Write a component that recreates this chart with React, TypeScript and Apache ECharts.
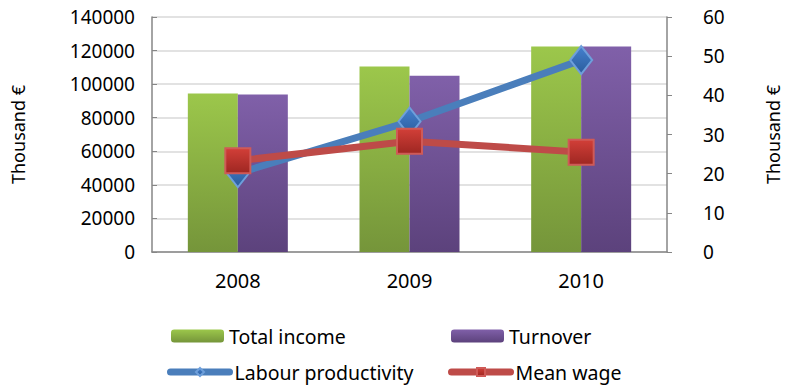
import React, { useEffect, useRef } from "react";
import * as echarts from "echarts";

const categories = ["2008", "2009", "2010"];
const totalIncome = [94500, 110500, 122500];
const turnover = [93800, 105000, 122500];
const labourProductivity = [20.1, 33.3, 49.0];
const meanWage = [23.3, 28.3, 25.5];
const leftTicks = { min: 0, max: 140000, interval: 20000 };
const rightTicks = { min: 0, max: 60, interval: 10 };

const FONT = "Noto Sans";

export default function App() {
  const ref = useRef<HTMLDivElement>(null);
  useEffect(() => {
    if (!ref.current) return;
    const chart = echarts.init(ref.current, null, { renderer: "svg" });
    const green = new echarts.graphic.LinearGradient(0, 0, 0, 1, [
      { offset: 0, color: "#9CC74B" },
      { offset: 1, color: "#75953A" },
    ]);
    const purple = new echarts.graphic.LinearGradient(0, 0, 0, 1, [
      { offset: 0, color: "#8060A9" },
      { offset: 1, color: "#5C427C" },
    ]);
    const blueMarker = new echarts.graphic.LinearGradient(0, 0, 0, 1, [
      { offset: 0, color: "#4581CF" },
      { offset: 1, color: "#2A5C9C" },
    ]);
    const redMarker = new echarts.graphic.LinearGradient(0, 0, 0, 1, [
      { offset: 0, color: "#D23F38" },
      { offset: 1, color: "#9E2722" },
    ]);
    const legendText = { fontFamily: FONT, fontSize: 19.5, color: "#000" };
    const lineLegend = { width: 7, cap: "round" };
    chart.setOption({
      animation: false,
      textStyle: { fontFamily: FONT },
      grid: { left: 152, right: 118, top: 17, bottom: 133, outerBoundsMode: "none", containLabel: false },
      legend: [
        { data: ["Total income"], left: 171, top: 326, padding: 0, itemWidth: 53, itemHeight: 13, textStyle: legendText },
        { data: ["Turnover"], left: 451, top: 326, padding: 0, itemWidth: 53, itemHeight: 13, textStyle: legendText },
        { data: ["Labour productivity"], left: 167, top: 362, padding: 0, itemWidth: 59, itemHeight: 10, textStyle: legendText, lineStyle: lineLegend },
        { data: ["Mean wage"], left: 448, top: 362, padding: 0, itemWidth: 59, itemHeight: 10, textStyle: legendText, lineStyle: lineLegend },
      ],
      xAxis: {
        type: "category",
        data: categories,
        axisLine: { lineStyle: { color: "#868686", width: 1.5 } },
        axisTick: { show: false },
        axisLabel: { fontFamily: FONT, fontSize: 20, color: "#000", margin: 18 },
      },
      yAxis: [
        {
          type: "value",
          ...leftTicks,
          name: "Thousand €",
          nameLocation: "middle",
          nameRotate: 90,
          nameGap: 125,
          nameTextStyle: { fontFamily: FONT, fontSize: 18, color: "#000" },
          axisLine: { show: true, lineStyle: { color: "#868686", width: 1.5 } },
          axisTick: { show: true, inside: true, length: 5, lineStyle: { color: "#868686" } },
          axisLabel: { fontFamily: FONT, fontSize: 19, color: "#000", margin: 17, formatter: (v: number) => String(v) },
          splitLine: { lineStyle: { color: "#D9D9D9", width: 1.5 } },
        },
        {
          type: "value",
          ...rightTicks,
          name: "Thousand €",
          nameLocation: "middle",
          nameRotate: 90,
          nameGap: 97,
          nameTextStyle: { fontFamily: FONT, fontSize: 18, color: "#000" },
          axisLine: { show: true, lineStyle: { color: "#868686", width: 1.5 } },
          axisTick: { show: true, inside: false, length: 5, lineStyle: { color: "#868686" } },
          axisLabel: { fontFamily: FONT, fontSize: 19, color: "#000", margin: 36, formatter: (v: number) => String(v) },
          splitLine: { show: false },
        },
      ],
      series: [
        {
          name: "Total income",
          type: "bar",
          data: totalIncome,
          barWidth: 50,
          barGap: "0%",
          itemStyle: { color: green },
        },
        {
          name: "Turnover",
          type: "bar",
          data: turnover,
          barWidth: 50,
          barGap: "0%",
          itemStyle: { color: purple },
        },
        {
          name: "Labour productivity",
          type: "line",
          yAxisIndex: 1,
          data: labourProductivity,
          symbol: "diamond",
          symbolSize: [22, 28],
          lineStyle: { color: "#4A7EBB", width: 7 },
          itemStyle: { color: blueMarker, borderColor: "#6E9FDB", borderWidth: 2 },
        },
        {
          name: "Mean wage",
          type: "line",
          yAxisIndex: 1,
          data: meanWage,
          symbol: "rect",
          symbolSize: 25,
          lineStyle: { color: "#BE4B48", width: 7 },
          itemStyle: { color: redMarker, borderColor: "#CF5A57", borderWidth: 2 },
        },
      ],
    });
    return () => chart.dispose();
  }, []);
  return (
    <div
      ref={ref}
      style={{ position: "fixed", left: 0, top: 0, width: 785, height: 385, background: "#fff" }}
    />
  );
}
